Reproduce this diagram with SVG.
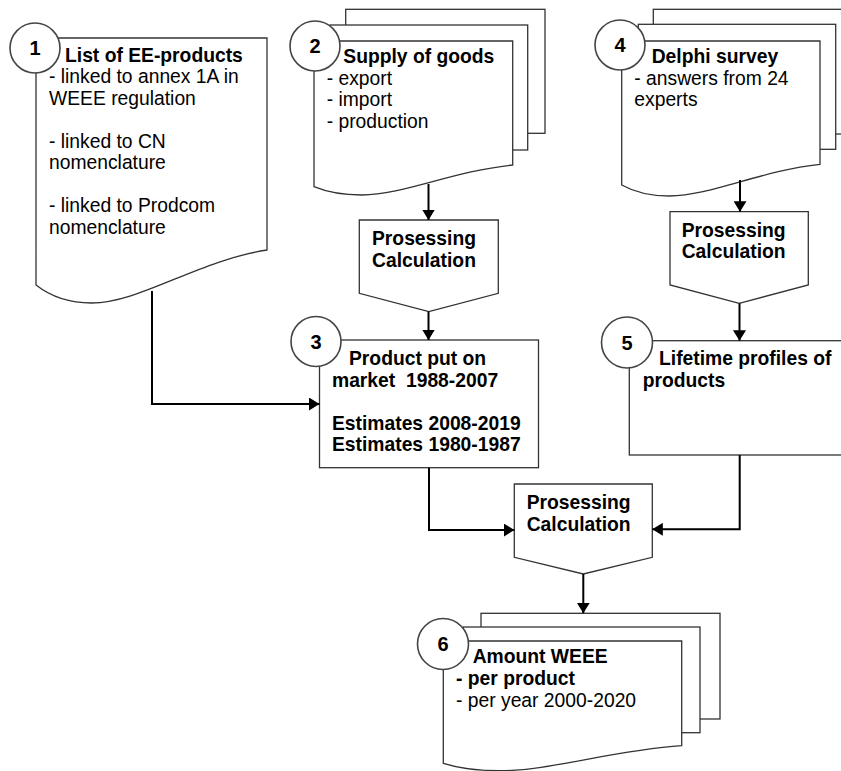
<svg xmlns="http://www.w3.org/2000/svg" width="841" height="771" viewBox="0 0 841 771">
<defs>
<marker id="arr" markerUnits="userSpaceOnUse" markerWidth="11" markerHeight="13" refX="10.5" refY="6.5" orient="auto">
<path d="M0,0 L10.5,6.5 L0,13 Z" fill="#000"/>
</marker>
</defs>
<style>
.sh{fill:#fff;stroke:#333;stroke-width:1.3}
.ci{fill:#fff;stroke:#444;stroke-width:1.6}
.t{font-family:"Liberation Sans",Arial,sans-serif;font-size:19.3px;fill:#000}
.b{font-weight:bold}
.n{font-family:"Liberation Sans",Arial,sans-serif;font-size:20px;font-weight:bold;text-anchor:middle;fill:#000}
.cn{fill:none;stroke:#000;stroke-width:2}
</style>
<rect width="841" height="771" fill="#fff"/>

<g id="node1">
<path class="sh" d="M36,38 H267 V250 C197.7,260.6 140,303 91.4,303 Q59.1,303 36,285 Z"/>
<circle class="ci" cx="35" cy="48" r="25"/>
<text class="n" x="35" y="55">1</text>
<text class="t b" x="65" y="61.7">List of EE-products</text>
<text class="t" x="49" y="83.2">- linked to annex 1A in</text>
<text class="t" x="49" y="104.7">WEEE regulation</text>
<text class="t" x="49" y="147.7">- linked to CN</text>
<text class="t" x="49" y="169.2">nomenclature</text>
<text class="t" x="49" y="212.2">- linked to Prodcom</text>
<text class="t" x="49" y="233.7">nomenclature</text>
</g>

<g id="node2">
<rect class="sh" x="345.7" y="9.3" width="199.3" height="124"/>
<rect class="sh" x="330" y="25" width="197.7" height="125"/>
<path class="sh" d="M314,41 H512.7 V165 C453.1,171 403.4,195 361.7,195 Q333.9,195 314,186.7 Z"/>
<circle class="ci" cx="315" cy="46" r="25"/>
<text class="n" x="315" y="53">2</text>
<text class="t b" x="343.3" y="63.3">Supply of goods</text>
<text class="t" x="326.7" y="84.8">- export</text>
<text class="t" x="326.7" y="106.3">- import</text>
<text class="t" x="326.7" y="127.8">- production</text>
</g>

<g id="proc1">
<path class="sh" d="M359.3,220 H498.3 V293.3 L428.8,311.7 L359.3,293.3 Z"/>
<text class="t b" x="372" y="245">Prosessing</text>
<text class="t b" x="372" y="266.5">Calculation</text>
</g>

<g id="node4">
<rect class="sh" x="653.3" y="9.3" width="200" height="124.7"/>
<rect class="sh" x="638.3" y="24.3" width="197.4" height="125"/>
<path class="sh" d="M621.7,41 H820 V164.3 C760.5,170.6 710.9,196 669.3,196 Q641.5,196 621.7,185 Z"/>
<circle class="ci" cx="620" cy="45" r="25"/>
<text class="n" x="620" y="52">4</text>
<text class="t b" x="651.7" y="63.3">Delphi survey</text>
<text class="t" x="634.3" y="84.8">- answers from 24</text>
<text class="t" x="634.3" y="106.3">experts</text>
</g>

<g id="proc2">
<path class="sh" d="M670,211.7 H808.3 V285 L739.2,303.3 L670,285 Z"/>
<text class="t b" x="681.7" y="236.7">Prosessing</text>
<text class="t b" x="681.7" y="258.3">Calculation</text>
</g>

<g id="node3">
<rect class="sh" x="319.5" y="340" width="219" height="127.7"/>
<circle class="ci" cx="316" cy="341.5" r="25"/>
<text class="n" x="316" y="348.5">3</text>
<text class="t b" x="349" y="365">Product put on</text>
<text class="t b" x="332" y="386.5" style="white-space:pre">market  1988-2007</text>
<text class="t b" x="332" y="429.5">Estimates 2008-2019</text>
<text class="t b" x="332" y="451">Estimates 1980-1987</text>
</g>

<g id="node5">
<rect class="sh" x="629.3" y="340.7" width="230" height="114.3"/>
<circle class="ci" cx="627" cy="342.5" r="25.5"/>
<text class="n" x="627" y="349.5">5</text>
<text class="t b" x="659" y="365">Lifetime profiles of</text>
<text class="t b" x="642.7" y="386.5">products</text>
</g>

<g id="proc3">
<path class="sh" d="M514.3,484 H652.3 V557.3 L583.3,574 L514.3,557.3 Z"/>
<text class="t b" x="526.7" y="509.3">Prosessing</text>
<text class="t b" x="526.7" y="530.8">Calculation</text>
</g>

<g id="node6">
<rect class="sh" x="481" y="613.3" width="239" height="105.7"/>
<rect class="sh" x="463.3" y="627" width="236.7" height="105.7"/>
<path class="sh" d="M443.3,641 H681.7 V745.7 C610.2,750.7 550.6,770.7 500.5,770.7 Q467.1,770.7 443.3,763.3 Z"/>
<circle class="ci" cx="443" cy="644" r="25.5"/>
<text class="n" x="443" y="651">6</text>
<text class="t b" x="472.7" y="663.3">Amount WEEE</text>
<text class="t b" x="456" y="685">- per product</text>
<text class="t" x="456" y="706.5">- per year 2000-2020</text>
</g>

<g id="connectors">
<path class="cn" d="M152,291 V404 H319.5" marker-end="url(#arr)"/>
<path class="cn" d="M428.5,184 V220" marker-end="url(#arr)"/>
<path class="cn" d="M428.5,311.7 V340" marker-end="url(#arr)"/>
<path class="cn" d="M740,180 V211.7" marker-end="url(#arr)"/>
<path class="cn" d="M739.5,303.3 V340.7" marker-end="url(#arr)"/>
<path class="cn" d="M429,467.7 V530 H514.3" marker-end="url(#arr)"/>
<path class="cn" d="M739.7,455 V529.3 H652.3" marker-end="url(#arr)"/>
<path class="cn" d="M583.3,574 V613.3" marker-end="url(#arr)"/>
</g>
</svg>
